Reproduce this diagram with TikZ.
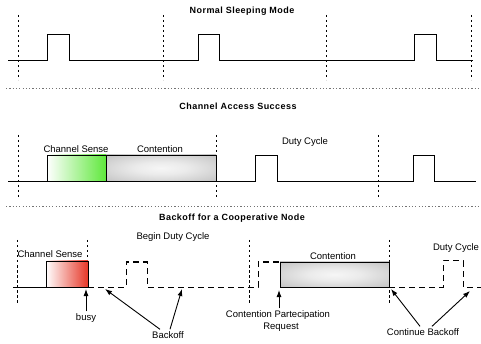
\documentclass[tikz,border=0pt]{standalone}
\usepackage{fontspec}
\setmainfont{Liberation Sans}
\newfontfamily\titlefont[LetterSpace=5]{Liberation Sans}
\usetikzlibrary{arrows.meta,calc}
\definecolor{sensegreen}{RGB}{95,232,60}
\definecolor{sensered}{RGB}{230,55,40}
\definecolor{boxgray}{RGB}{172,172,172}
\definecolor{boxlight}{RGB}{246,246,246}
\pgfdeclareradialshading{contshade}{\pgfpoint{0bp}{0bp}}{color(0bp)=(boxlight); color(12bp)=(boxlight!85!boxgray); color(50bp)=(boxgray); color(75bp)=(boxgray!90!black)}
\tikzset{
  wave/.style={line width=0.8pt,black},
  dwave/.style={line width=1pt,black,dash pattern=on 6pt off 4pt},
  slot/.style={line width=0.6pt,black,dash pattern=on 2.5pt off 2.5pt},
  sep/.style={line width=0.8pt,black!55,dash pattern=on 1.2pt off 2.1pt},
  ttl/.style={font=\titlefont\bfseries\fontsize{9}{10}\selectfont,inner sep=0pt},
  lbl/.style={font=\fontsize{9.5}{11}\selectfont,inner sep=0pt},
  ptr/.style={line width=0.9pt,-{Latex[length=7pt,width=5pt]}},
  greenbox/.style={draw=black,line width=0.7pt,left color=white,right color=sensegreen},
  redbox/.style={draw=black,line width=0.7pt,left color=white,right color=sensered},
  graybox/.style={draw=black,line width=0.7pt,shading=contshade},
}
\begin{document}
\begin{tikzpicture}[x=1pt,y=-1pt]
\useasboundingbox (0,0) rectangle (481,344);

% ---------- Section 1: Normal Sleeping Mode ----------
\node[ttl] (t1) at (242,11) {Normal Sleeping Mode};
\foreach \x in {18,163,326,471} \draw[slot] (\x,15) -- (\x,80);
\draw[wave] (8,60) -- (47,60) -- (47,34) -- (69,34) -- (69,60) -- (198,60)
  -- (198,34) -- (219,34) -- (219,60) -- (414,60) -- (414,34) -- (436,34)
  -- (436,60) -- (473,60);
\draw[sep] (6,88) -- (481,88);

% ---------- Section 2: Channel Access Success ----------
\node[ttl] (t2) at (238,106) {Channel Access Success};
\foreach \x in {18,216,378} \draw[slot] (\x,135) -- (\x,198);
\draw[greenbox] (47,155) rectangle (106,181);
\draw[graybox] (106,155) rectangle (216,181);
\draw[wave] (8,181) -- (255,181) -- (255,155) -- (277,155) -- (277,181)
  -- (413,181) -- (413,155) -- (434,155) -- (434,181) -- (476,181);
\node[lbl] (cs2) at (76,149) {Channel Sense};
\node[lbl] (ct2) at (160,149) {Contention};
\node[lbl] (dc2) at (305,142) {Duty Cycle};
\draw[sep] (6,206) -- (481,206);

% ---------- Section 3: Backoff for a Cooperative Node ----------
\node[ttl] (t3) at (232,218) {Backoff for a Cooperative Node};
\foreach \x/\b in {17/303,87/287,249/303,389/303} \draw[slot] (\x,240) -- (\x,\b);
\draw[redbox] (46,261) rectangle (88,287);
\draw[wave] (13,287) -- (88,287);
\draw[dwave] (88,287) -- (126,287) -- (126,262) -- (147,262) -- (147,287)
  -- (258,287) -- (258,262) -- (280,262);
\draw[graybox] (280,262) rectangle (389,287);
\draw[dwave] (389,287) -- (443,287) -- (443,261) -- (463,261) -- (463,287) -- (481,287);

\node[lbl] (cs3) at (50,254) {Channel Sense};
\node[lbl] (bdc) at (173,237) {Begin Duty Cycle};
\node[lbl] (ct3) at (333,256) {Contention};
\node[lbl] (dc3) at (456,248) {Duty Cycle};

\node[lbl] (busylbl) at (86,318) {busy};
\node[lbl] (bk) at (168,335) {Backoff};
\node[lbl] (cpr) at (278,315) {Contention Partecipation};
\node[lbl] (req) at (281,327) {Request};
\node[lbl] (cb) at (423,332) {Continue Backoff};

\coordinate (busyT) at (86,289);
\coordinate (bk1) at (105,289);
\coordinate (bk2) at (182,289);
\coordinate (cprT) at (279,290);
\coordinate (cb1) at (391,289);
\coordinate (cb2) at (470,291);

\draw[ptr] ([yshift=2pt]busylbl.north) -- (busyT);
\draw[ptr] ([xshift=-8pt,yshift=2pt]bk.north) -- (bk1);
\draw[ptr] ([xshift=2pt,yshift=2pt]bk.north) -- (bk2);
\draw[ptr] ([xshift=1pt,yshift=2pt]cpr.north) -- (cprT);
\draw[ptr] ([xshift=-3pt,yshift=2pt]cb.north) -- (cb1);
\draw[ptr] ([xshift=9pt,yshift=2pt]cb.north) -- (cb2);
\end{tikzpicture}
\end{document}
